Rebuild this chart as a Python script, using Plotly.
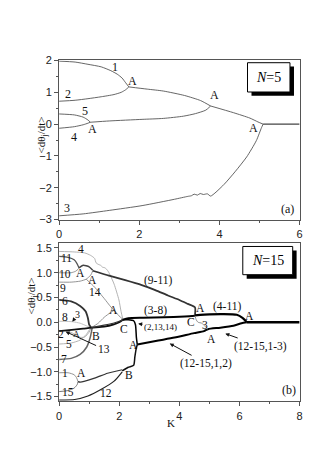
import plotly.graph_objects as go

# ---------------- panel (a): N=5 ----------------
a_k1 = [0, 0.4, 0.72, 1.05, 1.29, 1.45, 1.57, 1.66, 1.74]
a_w1 = [1.98, 1.95, 1.88, 1.80, 1.68, 1.57, 1.45, 1.30, 1.17]
a_k2 = [0, 0.4, 0.72, 1.05, 1.37, 1.55, 1.66, 1.74]
a_w2 = [0.72, 0.75, 0.80, 0.86, 0.93, 1.00, 1.08, 1.17]
a_k12 = [1.74, 2.2, 2.6, 3.13, 3.53, 3.78]
a_w12 = [1.17, 1.10, 1.04, 0.90, 0.74, 0.57]
a_k5 = [0, 0.38, 0.60, 0.72, 0.78]
a_w5 = [0.32, 0.29, 0.22, 0.13, 0.06]
a_k4 = [0, 0.38, 0.60, 0.72, 0.78]
a_w4 = [-0.13, -0.08, -0.02, 0.03, 0.06]
a_k45 = [0.78, 1.25, 2.07, 2.6, 3.1, 3.4, 3.66, 3.78]
a_w45 = [0.06, 0.10, 0.15, 0.18, 0.25, 0.33, 0.44, 0.57]
a_k1245 = [3.78, 4.35, 4.76, 4.96, 5.09]
a_w1245 = [0.57, 0.36, 0.19, 0.07, 0.0]
a_k3 = [0, 0.6, 1.25, 2.07, 2.88, 3.21, 3.30, 3.37, 3.45, 3.52, 3.60, 3.70, 3.78,
        4.11, 4.40, 4.68, 4.92, 5.05, 5.09]
a_w3 = [-2.88, -2.82, -2.71, -2.56, -2.36, -2.27, -2.25, -2.20, -2.23, -2.18, -2.21,
        -2.19, -2.26, -1.90, -1.48, -1.03, -0.52, -0.11, 0.0]
a_ksync = [5.09, 6]
a_wsync = [0, 0]

a_lab = ["1", "A", "2", "5", "4", "A", "A", "A", "3"]
a_lab_k = [1.40, 1.84, 0.23, 0.65, 0.37, 0.83, 3.87, 4.85, 0.20]
a_lab_w = [1.81, 1.37, 0.96, 0.40, -0.39, -0.15, 0.92, -0.12, -2.62]

# ---------------- panel (b): N=15 ----------------
b_k4 = [0, 0.5, 0.85, 1.05, 1.18, 1.23, 1.30, 1.38, 1.45, 1.52, 1.58, 1.64, 1.70,
        1.83, 1.99, 2.06, 2.12]
b_w4 = [1.43, 1.42, 1.40, 1.35, 1.29, 1.20, 1.17, 1.15, 1.11, 1.10, 1.07, 1.02, 0.95,
        0.77, 0.45, 0.22, 0.06]
b_k11 = [0, 0.3, 0.5, 0.6, 0.66]
b_w11 = [1.33, 1.31, 1.26, 1.18, 1.10]
b_k10 = [0, 0.4, 0.55, 0.63, 0.66]
b_w10 = [1.0, 1.0, 1.03, 1.07, 1.10]
b_k1011 = [0.66, 0.8, 1.0, 1.12]
b_w1011 = [1.10, 1.15, 1.12, 1.05]
b_k9 = [0, 0.4, 0.7, 0.9, 1.05, 1.12]
b_w9 = [0.81, 0.81, 0.83, 0.87, 0.95, 1.04]
b_k911 = [1.12, 1.66, 2.2, 2.75, 3.2, 3.62, 4.0, 4.28, 4.52, 4.52]
b_w911 = [1.04, 0.94, 0.85, 0.75, 0.65, 0.54, 0.45, 0.37, 0.30, 0.15]
b_k14 = [0.9, 1.18, 1.50, 1.72, 1.83, 1.99, 2.12]
b_w14 = [0.87, 0.71, 0.48, 0.31, 0.24, 0.13, 0.06]
b_kmid = [1.07, 1.3, 1.5, 1.72, 1.83]
b_wmid = [-0.11, -0.02, 0.10, 0.20, 0.24]
b_k6 = [0, 0.4, 0.7, 0.88, 0.96, 1.0, 1.07]
b_w6 = [0.45, 0.42, 0.33, 0.22, 0.08, -0.05, -0.11]
b_k8 = [0, 0.45, 0.7, 0.9, 1.07]
b_w8 = [0.02, 0.01, -0.02, -0.07, -0.11]
b_k2 = [0.2, 0.45, 0.65, 0.85, 1.0, 1.07]
b_w2 = [-0.17, -0.22, -0.30, -0.30, -0.20, -0.11]
b_k5 = [0, 0.4, 0.7, 0.9, 1.0, 1.07]
b_w5 = [-0.44, -0.42, -0.36, -0.25, -0.16, -0.11]
b_k7 = [0, 0.4, 0.7, 0.92, 1.03, 1.08, 1.10]
b_w7 = [-0.75, -0.73, -0.65, -0.50, -0.32, -0.18, -0.11]
b_kbun = [0, 0.5, 0.8, 1.07, 1.5, 1.8, 2.0, 2.12]
b_wbun = [-0.18, -0.15, -0.13, -0.11, -0.09, -0.05, 0.0, 0.05]
b_kbun2 = [1.07, 1.5, 1.8, 2.05, 2.12]
b_wbun2 = [-0.11, -0.06, -0.02, 0.03, 0.05]
b_k38 = [2.12, 2.3, 2.8, 3.5, 4.0, 4.52]
b_w38 = [0.05, 0.08, 0.09, 0.10, 0.11, 0.13]
b_k21314 = [2.12, 2.3, 2.48, 2.54, 2.57, 2.60]
b_w21314 = [0.05, 0.05, 0.03, -0.05, -0.30, -0.45]
b_k1 = [0, 0.3, 0.5, 0.58, 0.63]
b_w1 = [-1.02, -1.02, -1.06, -1.12, -1.20]
b_k15 = [0, 0.3, 0.5, 0.6, 0.63]
b_w15 = [-1.40, -1.38, -1.33, -1.26, -1.20]
b_k115 = [0.63, 0.7, 1.18, 1.61, 2.10]
b_w115 = [-1.20, -1.21, -1.13, -1.03, -0.96]
b_k12 = [0, 0.52, 0.96, 1.39, 1.83, 2.10]
b_w12 = [-1.57, -1.56, -1.49, -1.36, -1.19, -1.00]
b_k11215 = [2.10, 2.3, 2.48, 2.52, 2.56, 2.60]
b_w11215 = [-0.98, -0.91, -0.87, -0.70, -0.55, -0.45]
b_klow = [2.60, 3.3, 3.84, 4.49, 4.82, 4.95, 5.36, 5.80, 6.07, 6.24]
b_wlow = [-0.45, -0.37, -0.31, -0.22, -0.18, -0.14, -0.11, -0.07, -0.02, 0.0]
b_k411 = [4.52, 5.0, 5.47, 5.91, 6.1, 6.2, 6.24]
b_w411 = [0.14, 0.16, 0.165, 0.15, 0.09, 0.03, 0.0]
b_k3 = [4.52, 4.56, 4.62, 4.75, 4.85, 4.95]
b_w3 = [0.13, 0.05, 0.0, -0.02, -0.08, -0.14]
b_ksync = [6.24, 8]
b_wsync = [0, 0]

b_lab = ["4", "11", "A", "10", "A", "9", "14", "6", "A", "8", "2", "A", "B",
         "5", "7", "C", "(3-8)", "(9-11)", "A", "(4-11)", "A", "C", "3", "A",
         "A", "1", "A", "15", "B", "12"]
b_lab_k = [0.74, 0.25, 0.70, 0.20, 1.12, 0.14, 1.18, 0.20, 1.81, 0.20, 0.07,
           0.58, 1.23, 0.33, 0.17, 2.15, 3.19, 3.30, 4.69, 5.58, 6.34, 4.39,
           4.84, 5.06, 2.46, 0.20, 0.76, 0.30, 2.32, 1.56]
b_lab_w = [1.48, 1.30, 1.00, 0.98, 0.85, 0.70, 0.61, 0.43, 0.25, 0.10, -0.24,
           -0.23, -0.28, -0.44, -0.75, -0.13, 0.24, 0.85, 0.28, 0.31, 0.13,
           0.01, -0.05, -0.33, -0.46, -1.03, -1.03, -1.41, -1.06, -1.42]

# labels with pointer arrows: text position and arrow head position
p_lab = ["3", "13", "(2,13,14)", "(12-15,1,2)", "(12-15,1-3)"]
p_lab_k = [0.61, 1.48, 3.37, 4.90, 6.69]
p_lab_w = [0.15, -0.54, -0.09, -0.83, -0.48]
p_head_k = [0.44, 0.22, 2.63, 3.68, 5.53]
p_head_w = [0.01, -0.19, -0.03, -0.43, -0.23]
p_size = [10, 11.5, 9, 11.5, 11.5]

SERIF = "Liberation Serif, Times New Roman, serif"
SANS = "Liberation Sans, Arial, sans-serif"

fig = go.Figure()


def curve(k, w, ax, color, width):
    xa, ya = ("x", "y") if ax == 1 else ("x2", "y2")
    fig.add_trace(go.Scatter(x=k, y=w, mode="lines", xaxis=xa, yaxis=ya,
                             line=dict(color=color, width=width, shape="spline", smoothing=0.6),
                             hoverinfo="skip", showlegend=False))


# panel (a)
for k, w in [(a_k1, a_w1), (a_k2, a_w2), (a_k12, a_w12), (a_k5, a_w5), (a_k4, a_w4),
             (a_k45, a_w45), (a_k1245, a_w1245), (a_k3, a_w3)]:
    curve(k, w, 1, "#555", 0.9)
curve(a_ksync, a_wsync, 1, "#444", 1.3)

# panel (b)
curve(b_k4, b_w4, 2, "#aaa", 0.9)
curve(b_k10, b_w10, 2, "#888", 0.9)
curve(b_k11, b_w11, 2, "#555", 1.3)
curve(b_k1011, b_w1011, 2, "#444", 1.5)
curve(b_k9, b_w9, 2, "#888", 0.9)
curve(b_k14, b_w14, 2, "#888", 0.9)
curve(b_kmid, b_wmid, 2, "#888", 0.9)
curve(b_k911, b_w911, 2, "#333", 1.8)
curve(b_k8, b_w8, 2, "#bbb", 0.9)
curve(b_k2, b_w2, 2, "#aaa", 0.9)
curve(b_k5, b_w5, 2, "#aaa", 0.9)
curve(b_k6, b_w6, 2, "#333", 1.8)
curve(b_k7, b_w7, 2, "#666", 1.5)
curve(b_kbun, b_wbun, 2, "#111", 1.8)
curve(b_kbun2, b_wbun2, 2, "#333", 1.2)
curve(b_k38, b_w38, 2, "#000", 2.0)
curve(b_k21314, b_w21314, 2, "#000", 1.5)
curve(b_k1, b_w1, 2, "#888", 0.9)
curve(b_k15, b_w15, 2, "#666", 0.9)
curve(b_k115, b_w115, 2, "#333", 1.2)
curve(b_k12, b_w12, 2, "#222", 1.2)
curve(b_k11215, b_w11215, 2, "#111", 1.5)
curve(b_klow, b_wlow, 2, "#000", 2.0)
curve(b_k411, b_w411, 2, "#000", 2.2)
curve(b_k3, b_w3, 2, "#888", 0.9)
curve(b_ksync, b_wsync, 2, "#000", 2.6)

ann = []
for t, x, y in zip(a_lab, a_lab_k, a_lab_w):
    ann.append(dict(text=t, x=x, y=y, xref="x", yref="y", showarrow=False,
                    font=dict(family=SERIF, size=12, color="#111")))
for t, x, y in zip(b_lab, b_lab_k, b_lab_w):
    sz = 9 if t == "A" and x < 1 and y < 0 and y > -0.5 else 11.5
    ann.append(dict(text=t, x=x, y=y, xref="x2", yref="y2", showarrow=False,
                    font=dict(family=SERIF, size=sz, color="#111")))
for t, x, y, hx, hy, sz in zip(p_lab, p_lab_k, p_lab_w, p_head_k, p_head_w, p_size):
    ann.append(dict(text=t, x=hx, y=hy, ax=x, ay=y, xref="x2", yref="y2",
                    axref="x2", ayref="y2", showarrow=True, arrowhead=2,
                    arrowsize=0.8, arrowwidth=1, arrowcolor="#111", standoff=0,
                    font=dict(family=SERIF, size=sz, color="#111")))

# boxes, panel tags, axis titles
ann += [
    dict(text="<i>N</i>=5", x=5.23, y=1.47, xref="x", yref="y", showarrow=False,
         font=dict(family=SERIF, size=14, color="#000")),
    dict(text="<i>N</i>=15", x=6.94, y=1.245, xref="x2", yref="y2", showarrow=False,
         font=dict(family=SERIF, size=14, color="#000")),
    dict(text="(a)", x=5.71, y=-2.66, xref="x", yref="y", showarrow=False,
         font=dict(family=SERIF, size=12, color="#111")),
    dict(text="(b)", x=7.65, y=-1.37, xref="x2", yref="y2", showarrow=False,
         font=dict(family=SERIF, size=12, color="#111")),
    dict(text="&lt;dθ<sub>j</sub>/dt&gt;", x=22 / 327, y=1 - 103 / 471, xref="paper",
         yref="paper", showarrow=False, textangle=-90,
         font=dict(family=SERIF, size=11, color="#111")),
    dict(text="&lt;dθ<sub>j</sub>/dt&gt;", x=12 / 327, y=1 - 289 / 471, xref="paper",
         yref="paper", showarrow=False, textangle=-90,
         font=dict(family=SERIF, size=11, color="#111")),
    dict(text="K", x=163 / 327, y=1 - 428 / 471, xref="paper", yref="paper",
         showarrow=False, font=dict(family=SERIF, size=11, color="#111")),
]

shapes = [
    dict(type="rect", xref="x", yref="y", x0=4.80, x1=5.86, y0=0.89, y1=1.81,
         fillcolor="#000", line=dict(width=0)),
    dict(type="rect", xref="x", yref="y", x0=4.70, x1=5.76, y0=1.01, y1=1.93,
         fillcolor="#fff", line=dict(color="#000", width=1)),
    dict(type="rect", xref="x2", yref="y2", x0=6.24, x1=7.90, y0=0.88, y1=1.45,
         fillcolor="#000", line=dict(width=0)),
    dict(type="rect", xref="x2", yref="y2", x0=6.11, x1=7.77, y0=0.96, y1=1.53,
         fillcolor="#fff", line=dict(color="#000", width=1)),
]

axis_style = dict(showline=True, linecolor="#555", linewidth=1, mirror=True,
                  ticks="outside", ticklen=4, tickcolor="#555", showgrid=False,
                  zeroline=False, tickfont=dict(family=SANS, size=11, color="#222"))

fig.update_layout(
    width=327, height=471, margin=dict(l=0, r=0, t=0, b=0),
    plot_bgcolor="white", paper_bgcolor="white",
    xaxis=dict(domain=[49 / 327, 294 / 327], range=[0, 6], dtick=2, anchor="y",
               minor=dict(dtick=1, ticks="outside", ticklen=2, tickcolor="#555"),
               **axis_style),
    yaxis=dict(domain=[1 - 211 / 471, 1 - 47.7 / 471], range=[-3, 2], dtick=1,
               anchor="x", minor=dict(dtick=0.5, ticks="outside", ticklen=2, tickcolor="#555"),
               **axis_style),
    xaxis2=dict(domain=[49 / 327, 294 / 327], range=[0, 8], dtick=2, anchor="y2",
                minor=dict(dtick=1, ticks="outside", ticklen=2, tickcolor="#555"),
                **axis_style),
    yaxis2=dict(domain=[1 - 397.6 / 471, 1 - 235 / 471], range=[-1.6, 1.6], dtick=0.5,
                tickformat=".1f", anchor="x2",
                minor=dict(dtick=0.25, ticks="outside", ticklen=2, tickcolor="#555"),
                **axis_style),
    annotations=ann,
    shapes=shapes,
)

fig.write_html("out.html")
